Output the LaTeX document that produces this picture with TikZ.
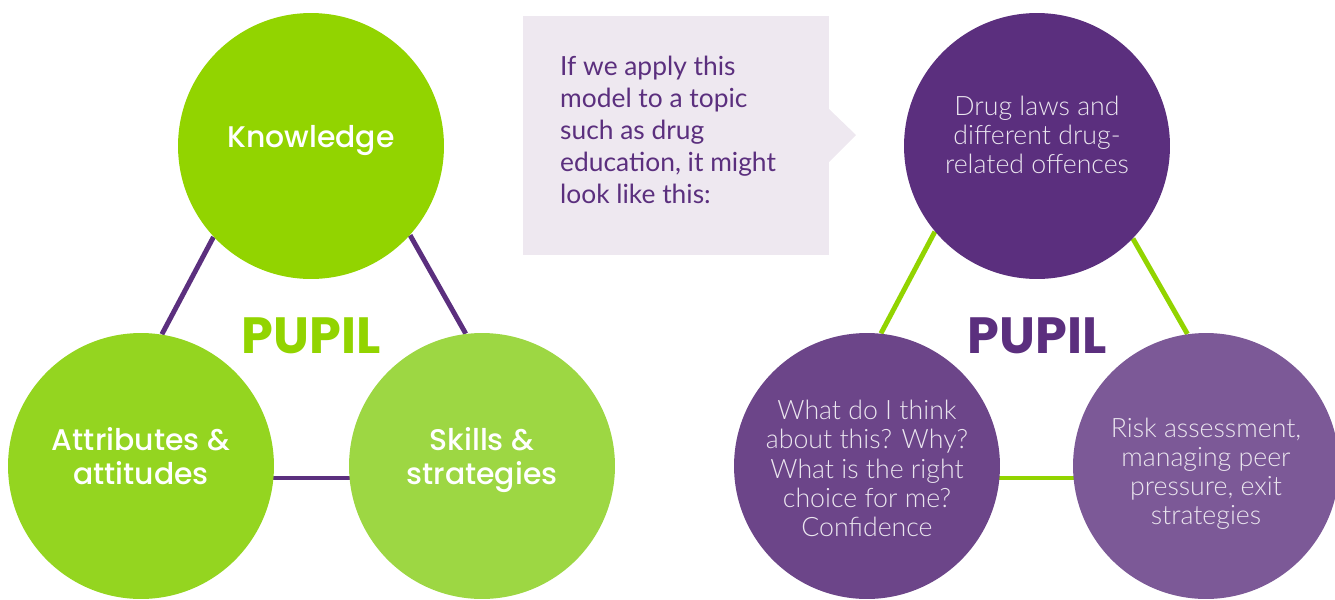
\documentclass[tikz,border=0pt]{standalone}
\usepackage{fontspec}
\usepackage{xcolor}
\usepackage{tikz}
\setmainfont{Lato}
\newfontfamily\popfont{Poppins}[UprightFont=* Medium, BoldFont=* Bold]
\newfontfamily\latolight{Lato}[UprightFont=* Light]
\pgfdeclarelayer{bg}
\pgfsetlayers{bg,main}
\definecolor{greenA}{HTML}{92D400}
\definecolor{greenB}{HTML}{94D520}
\definecolor{greenC}{HTML}{9DD743}
\definecolor{purpA}{HTML}{5B2F7E}
\definecolor{purpB}{HTML}{6C4589}
\definecolor{purpC}{HTML}{7C5997}
\definecolor{boxbg}{HTML}{EEE8F0}
\tikzset{
	ball/.style={circle, minimum size=5.32cm, inner sep=0pt},
	greenlabel/.style={text=white, align=center, font=\popfont\fontsize{17}{19.5}\selectfont},
	purplabel/.style={text=white!88!purpA, align=center, font=\latolight\fontsize{15.2}{16.6}\selectfont},
	link/.style={line width=2.8pt},
	pupil/.style={font=\popfont\bfseries\fontsize{29}{31}\selectfont}
}

\begin{document}
\begin{tikzpicture}[x=0.02cm, y=-0.02cm]
		\useasboundingbox (0,0) rectangle (1335,599);

		% left triangle
		\node[ball, fill=greenA, label={[greenlabel, yshift=0.1cm]center:Knowledge}] (know) at (311,146) {};
		\node[ball, fill=greenB, label={[greenlabel, yshift=0.2cm]center:{Attributes \&\\attitudes}}] (attr) at (141,466) {};
		\node[ball, fill=greenC, label={[greenlabel, yshift=0.12cm]center:{Skills \&\\strategies}}] (skill) at (482,466) {};
		\node[pupil, text=greenA] (pupilL) at (311,336) {PUPIL};

		% callout
		\fill[boxbg] (523,16) rectangle (829,255);
		\fill[boxbg] (829,109) -- (856,135) -- (829,162) -- cycle;
		\node[anchor=west, align=left, text=purpA, font=\fontsize{15}{18.2}\selectfont] (note) at (554,130)
			{If we apply this\\model to a topic\\such as drug\\education, it might\\look like this:};

		% right triangle
		\node[ball, fill=purpA, label={[purplabel, yshift=0.22cm]center:{Drug laws and\\different drug-\\related offences}}] (laws) at (1037,146) {};
		\node[ball, fill=purpB, label={[purplabel, yshift=-0.05cm]center:{What do I think\\about this? Why?\\What is the right\\choice for me?\\Confidence}}] (think) at (867,466) {};
		\node[ball, fill=purpC, label={[purplabel, yshift=-0.16cm]center:{Risk assessment,\\managing peer\\pressure, exit\\strategies}}] (risk) at (1206,466) {};
		\node[pupil, text=purpA] (pupilR) at (1037,336) {PUPIL};

		\begin{pgfonlayer}{bg}
			\draw[link, purpA] (know.223) -- (attr.81);
			\draw[link, purpA] (know.318) -- (skill.97);
			\draw[link, purpA] ([yshift=-0.24cm]attr.center) -- ([yshift=-0.24cm]skill.center);
			\draw[link, greenA] (laws.220) -- (think.84);
			\draw[link, greenA] (laws.316) -- (risk.98);
			\draw[link, greenA] ([yshift=-0.24cm]think.center) -- ([yshift=-0.24cm]risk.center);
		\end{pgfonlayer}
	\end{tikzpicture}
\end{document}
